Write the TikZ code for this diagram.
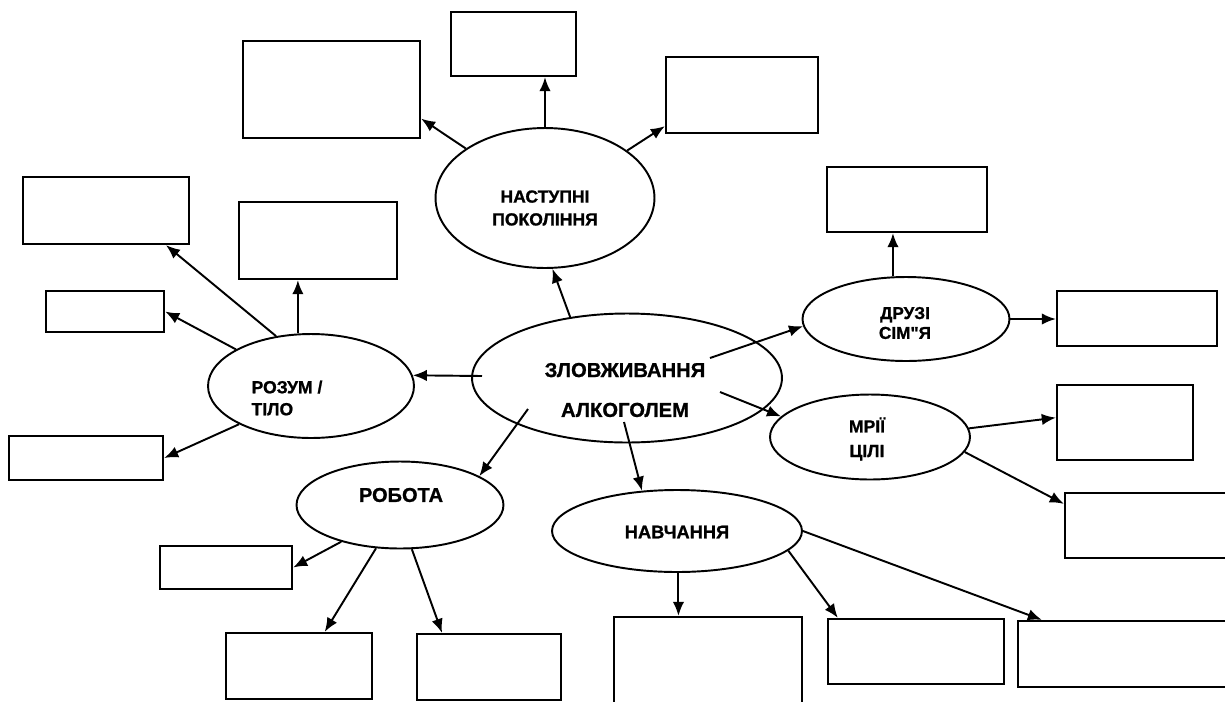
\documentclass[tikz,border=0pt]{standalone}
\usepackage{fontspec}
\setmainfont{Liberation Sans}[Ligatures=TeXOff, BoldFeatures={FakeBold=1}]
\usetikzlibrary{arrows.meta,shapes.geometric,fit}
\tikzset{
  blank/.style={draw, line width=1.3pt, inner sep=0pt},
  oval/.style={draw, ellipse, line width=1.1pt, inner sep=0pt},
  lbl/.style={align=center, inner sep=0pt},
  link/.style={->, line width=1.1pt}
}
\begin{document}
\begin{tikzpicture}[>={Latex[length=8pt,width=6.5pt]}, x=0.02cm, y=-0.02cm]
  \useasboundingbox (0,0) rectangle (1225,701);
  \clip (0,0) rectangle (1225,701);
  \node[oval, minimum width=6.2cm, minimum height=2.58cm] (cent) at (627,378) {};
  \node[oval, minimum width=4.38cm, minimum height=2.8cm] (nast) at (545,198) {};
  \node[oval, minimum width=4.14cm, minimum height=1.68cm] (druzi) at (906,319) {};
  \node[oval, minimum width=4cm, minimum height=1.7cm] (mrii) at (870,437) {};
  \node[oval, minimum width=4.12cm, minimum height=2.08cm] (rozum) at (311,386) {};
  \node[oval, minimum width=4.14cm, minimum height=1.74cm] (robota) at (400,505) {};
  \node[oval, minimum width=5cm, minimum height=1.64cm] (navch) at (677,531) {};
  \node[lbl, font=\bfseries\fontsize{11.5}{22.7}\selectfont] (cent-t) at (625,390) {ЗЛОВЖИВАННЯ\\АЛКОГОЛЕМ};
  \node[lbl, font=\bfseries\fontsize{10}{13}\selectfont] (nast-t) at (545,208) {НАСТУПНІ\\ПОКОЛІННЯ};
  \node[lbl, font=\bfseries\fontsize{9.8}{11.3}\selectfont] (druzi-t) at (905,323) {ДРУЗІ\\СІМ"Я};
  \node[lbl, font=\bfseries\fontsize{10}{14}\selectfont] (mrii-t) at (867,439) {МРІЇ\\ЦІЛІ};
  \node[lbl, align=left, font=\bfseries\fontsize{10}{12.5}\selectfont] (rozum-t) at (287,398) {РОЗУМ /\\ТІЛО};
  \node[lbl, font=\bfseries\fontsize{11.4}{13}\selectfont] (robota-t) at (401,495) {РОБОТА};
  \node[lbl, font=\bfseries\fontsize{10.4}{13}\selectfont] (navch-t) at (677,532) {НАВЧАННЯ};
  \node[blank, fit={(243,41) (420,138)}] (nl) {};
  \node[blank, fit={(451,12) (576,76)}] (nm) {};
  \node[blank, fit={(666,57) (818,133)}] (nr) {};
  \node[blank, fit={(827,167) (987,232)}] (dt) {};
  \node[blank, fit={(1057,291) (1217,346)}] (dr) {};
  \node[blank, fit={(1057,385) (1193,460)}] (mr) {};
  \node[blank, fit={(1065,493) (1240,558)}] (mb) {};
  \node[blank, fit={(23,177) (189,244)}] (ltop) {};
  \node[blank, fit={(239,202) (397,279)}] (rt) {};
  \node[blank, fit={(46,291) (164,332)}] (ls) {};
  \node[blank, fit={(9,436) (163,480)}] (lb) {};
  \node[blank, fit={(160,546) (292,589)}] (rs) {};
  \node[blank, fit={(226,633) (372,699)}] (rb1) {};
  \node[blank, fit={(417,634) (561,700)}] (rb2) {};
  \node[blank, fit={(614,617) (802,720)}] (nb1) {};
  \node[blank, fit={(828,619) (1004,684)}] (nb2) {};
  \node[blank, fit={(1018,621) (1240,687)}] (nb3) {};
  \draw[link] ([shift={(-145,-2)}]cent.center) -- (rozum.6);
  \draw[link] (cent.133) -- (nast.-84);
  \draw[link] (nast.north) -- (nast.north |- nm.south);
  \draw[link] (nast.148) -- (nl.-18);
  \draw[link] (nast.30) -- (nr.202);
  \draw[link] ([shift={(83,-20)}]cent.center) -- (druzi.184);
  \draw[link] (druzi.107) -- (druzi.107 |- dt.south);
  \draw[link] (druzi.east) -- (druzi.east -| dr.west);
  \draw[link] ([shift={(93,14)}]cent.center) -- (mrii.167);
  \draw[link] (mrii.5) -- (mr.176);
  \draw[link] (mrii.-9) -- ([shift={(0,12)}]mb.north west);
  \draw[link] ([shift={(-99,31)}]cent.center) -- (robota.20);
  \draw[link] ([shift={(-3,44)}]cent.center) -- (navch.131);
  \draw[link] (navch.-88) -- (navch.-88 |- nb1.north);
  \draw[link] (navch.-10) -- ([shift={(11,0)}]nb2.north west);
  \draw[link] (navch.east) -- ([shift={(25,0)}]nb3.north west);
  \draw[link] (robota.212) -- (rs.east);
  \draw[link] (robota.241) -- (rb1.53);
  \draw[link] (robota.-75) -- (rb2.144);
  \draw[link] (rozum.125) -- (ltop.-30);
  \draw[link] (rozum.154) -- (ls.east);
  \draw[link] (rozum.104) -- (rozum.104 |- rt.south);
  \draw[link] (rozum.208) -- (lb.east);
\end{tikzpicture}
\end{document}
